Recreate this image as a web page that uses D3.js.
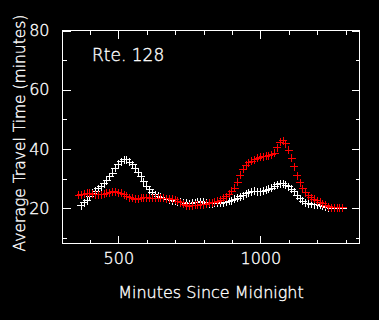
<!DOCTYPE html>
<html>
<head>
<meta charset="utf-8">
<script src="https://cdn.jsdelivr.net/npm/d3@7"></script>
<style>
  html, body { margin: 0; padding: 0; background: #000; }
  svg { display: block; }
  text { font-family: "DejaVu Sans", sans-serif; font-weight: 200; fill: #fff; stroke: #fff; stroke-width: 0.35px; }
  .axis path { display: none; }
  .axis line { stroke: #fff; shape-rendering: crispEdges; }
</style>
</head>
<body>
<script>
// minutes since midnight, sampled every 10 min
const whiteTimes = d3.range(370, 1300, 10);
const redTimes = d3.range(360, 1300, 10);

// average travel time (minutes), white series
const whiteValues = [
  20.8, 21.8, 22.6, 23.8, 25.0, 25.8, 26.6, 27.3, 28.3, 29.3,
  30.6, 31.8, 33.5, 34.8, 35.7, 36.3, 36.3, 35.5, 34.6, 33.3,
  32.0, 30.6, 29.0, 27.5, 26.2, 25.3, 24.6, 24.0, 23.7, 23.4,
  23.0, 22.8, 22.6, 22.4, 22.2, 22.0, 21.8, 21.7, 21.6, 21.7,
  21.8, 22.0, 22.2, 22.0, 21.7, 21.6, 21.6, 21.7, 21.7, 21.7,
  21.8, 22.0, 22.3, 22.6, 23.0, 23.4, 23.8, 24.3, 24.9, 25.3,
  25.6, 25.7, 25.6, 25.5, 25.7, 26.0, 26.4, 26.8, 27.4, 27.9,
  28.2, 28.2, 27.8, 27.2, 26.4, 25.5, 24.3, 23.2, 22.3, 21.7,
  21.5, 21.3, 21.2, 21.1, 21.0, 20.7, 20.3, 20.1, 20.0, 20.0,
  20.0, 20.0, 20.0
];

// average travel time (minutes), red series
const redValues = [
  24.4, 24.6, 24.8, 25.0, 25.0, 24.8, 24.6, 24.5, 24.5, 24.7,
  25.0, 25.3, 25.6, 25.6, 25.3, 25.0, 24.5, 24.0, 23.6, 23.3,
  23.1, 23.0, 23.3, 23.5, 23.5, 23.4, 23.4, 23.4, 23.4, 23.3,
  23.3, 23.2, 23.2, 23.1, 22.8, 22.4, 21.9, 21.3, 20.8, 20.7,
  20.9, 21.0, 21.0, 21.1, 21.1, 21.4, 21.7, 21.9, 22.1, 22.3,
  22.7, 23.3, 23.9, 24.8, 25.8, 26.8, 28.8, 31.2, 33.2, 34.5,
  35.3, 35.9, 36.4, 36.9, 37.2, 37.4, 37.6, 37.8, 38.1, 38.6,
  40.5, 42.2, 42.8, 41.8, 39.6, 36.8, 34.0, 31.0, 28.6, 26.6,
  25.2, 24.3, 23.6, 23.0, 22.5, 22.0, 21.6, 21.0, 20.5, 20.2,
  20.1, 20.1, 20.1, 20.1
];

const xMajor = [500, 1000];
const xMinor = [400, 600, 700, 800, 900, 1100, 1200, 1300];
const yMajor = [20, 40, 60, 80];
const yMinor = [10, 30, 50, 70];

const width = 379, height = 320;
const plotL = 62.5, plotR = 359.5, plotT = 30.5, plotB = 243.5;

const svg = d3.select("body").append("svg")
  .attr("width", width)
  .attr("height", height);

svg.append("rect").attr("width", width).attr("height", height).attr("fill", "#000");

const x = d3.scaleLinear().domain([303.5, 1349]).range([plotL, plotR]);
const y = d3.scaleLinear().domain([8.1, 80]).range([plotB, plotT]);

// frame
svg.append("rect")
  .attr("x", plotL).attr("y", plotT)
  .attr("width", plotR - plotL).attr("height", plotB - plotT)
  .attr("fill", "none").attr("stroke", "#fff")
  .attr("shape-rendering", "crispEdges");

function addAxis(axisFn, scale, values, size, tx, ty, labels, pad) {
  const ax = axisFn(scale).tickValues(values).tickSize(-size).tickPadding(pad)
    .tickFormat(labels ? d3.format("d") : "");
  const g = svg.append("g").attr("class", "axis")
    .attr("transform", `translate(${tx},${ty})`)
    .call(ax);
  g.selectAll("text").style("font-size", "16px").attr("fill", "#fff");
  return g;
}

// major + minor ticks on all four sides, pointing inward
addAxis(d3.axisBottom, x, xMajor, 8, 0, plotB, true, 9);
addAxis(d3.axisBottom, x, xMinor, 4, 0, plotB, false, 0);
addAxis(d3.axisTop, x, xMajor, 8, 0, plotT, false, 0);
addAxis(d3.axisTop, x, xMinor, 4, 0, plotT, false, 0);
addAxis(d3.axisLeft, y, yMajor, 8, plotL, 0, true, 13);
addAxis(d3.axisLeft, y, yMinor, 4, plotL, 0, false, 0);
addAxis(d3.axisRight, y, yMajor, 8, plotR, 0, false, 0);
addAxis(d3.axisRight, y, yMinor, 4, plotR, 0, false, 0);

// plus markers
function drawSeries(times, values, color) {
  const pts = times.map((t, i) => [x(t), y(values[i])]);
  const h = 4;
  svg.append("g")
    .selectAll("path")
    .data(pts)
    .join("path")
    .attr("d", d => `M${d[0] - h},${d[1]}H${d[0] + h}M${d[0]},${d[1] - h}V${d[1] + h}`)
    .attr("stroke", color)
    .attr("stroke-width", 1)
    .attr("fill", "none")
    .attr("shape-rendering", "crispEdges");
}

drawSeries(whiteTimes, whiteValues, "#fff");
drawSeries(redTimes, redValues, "#f00");

// labels
svg.append("text")
  .attr("x", 92).attr("y", 61)
  .style("font-size", "17px")
  .text("Rte. 128");

svg.append("text")
  .attr("x", 211).attr("y", 298)
  .attr("text-anchor", "middle")
  .style("font-size", "16px")
  .text("Minutes Since Midnight");

svg.append("text")
  .attr("transform", "translate(25,133) rotate(-90)")
  .attr("text-anchor", "middle")
  .style("font-size", "15.5px")
  .text("Average Travel Time (minutes)");
</script>
</body>
</html>
